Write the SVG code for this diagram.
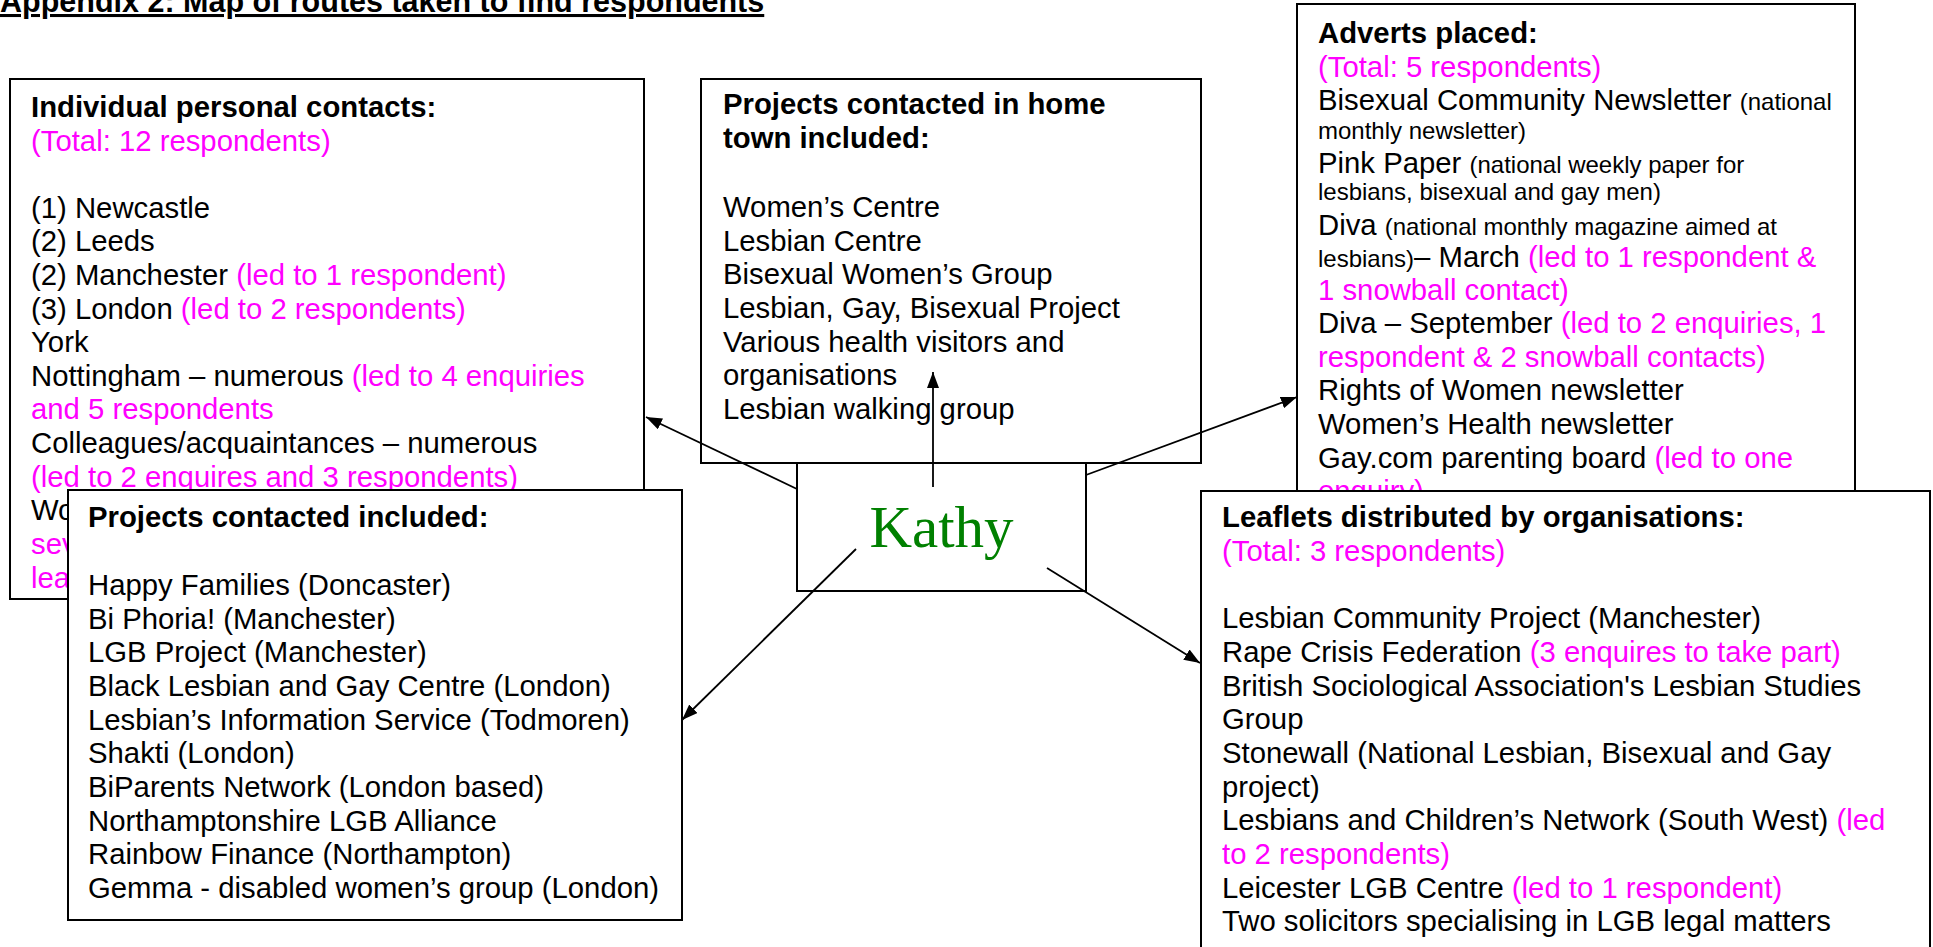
<svg xmlns="http://www.w3.org/2000/svg" width="1933" height="947" viewBox="0 0 1933 947">
<style>
.box{fill:#fff;stroke:#000;stroke-width:2}
.t{font-family:"Liberation Sans",Arial,sans-serif;font-size:29.3px;fill:#000}
.b{font-weight:bold}
.m{fill:#ff00ff}
.s{font-size:24px}
.k{font-family:"Liberation Serif","Times New Roman",serif;font-size:59px;fill:#008000}
.c{stroke:#000;stroke-width:1.8;fill:none;marker-end:url(#ah)}
</style>
<defs>
<marker id="ah" markerWidth="16" markerHeight="12" refX="16" refY="6" orient="auto" markerUnits="userSpaceOnUse">
<path d="M0,0 L16,6 L0,12 Z" fill="#000"/>
</marker>
</defs>
<rect width="1933" height="947" fill="#fff"/>
<text class="t b" x="0" y="12" style="font-size:30.5px" text-decoration="underline">Appendix 2: Map of routes taken to find respondents</text>

<g id="individual">
<rect class="box" x="10" y="79" width="634" height="520"/>
<text class="t b" x="31" y="117">Individual personal contacts:</text>
<text class="t m" x="31" y="150.5">(Total: 12 respondents)</text>
<text class="t" x="31" y="217.5">(1) Newcastle</text>
<text class="t" x="31" y="251">(2) Leeds</text>
<text class="t" x="31" y="285">(2) Manchester <tspan class="m">(led to 1 respondent)</tspan></text>
<text class="t" x="31" y="318.5">(3) London <tspan class="m">(led to 2 respondents)</tspan></text>
<text class="t" x="31" y="352">York</text>
<text class="t" x="31" y="385.5">Nottingham – numerous <tspan class="m">(led to 4 enquiries</tspan></text>
<text class="t m" x="31" y="419">and 5 respondents</text>
<text class="t" x="31" y="453">Colleagues/acquaintances – numerous</text>
<text class="t m" x="31" y="486.5">(led to 2 enquires and 3 respondents)</text>
<text class="t" x="31" y="520">Wo</text>
<text class="t m" x="31" y="554">sev</text>
<text class="t m" x="31" y="587.5">lea</text>
</g>

<g id="hometown">
<rect class="box" x="701" y="79" width="500" height="384"/>
<text class="t b" x="723" y="114">Projects contacted in home</text>
<text class="t b" x="723" y="148">town included:</text>
<text class="t" x="723" y="217">Women’s Centre</text>
<text class="t" x="723" y="251">Lesbian Centre</text>
<text class="t" x="723" y="284">Bisexual Women’s Group</text>
<text class="t" x="723" y="318">Lesbian, Gay, Bisexual Project</text>
<text class="t" x="723" y="352">Various health visitors and</text>
<text class="t" x="723" y="385">organisations</text>
<text class="t" x="723" y="419">Lesbian walking group</text>
</g>

<g id="adverts">
<rect class="box" x="1297" y="4" width="558" height="496"/>
<text class="t b" x="1318" y="43">Adverts placed:</text>
<text class="t m" x="1318" y="77">(Total: 5 respondents)</text>
<text class="t" x="1318" y="110">Bisexual Community Newsletter <tspan class="s">(national</tspan></text>
<text class="t s" x="1318" y="139">monthly newsletter)</text>
<text class="t" x="1318" y="173">Pink Paper <tspan class="s">(national weekly paper for</tspan></text>
<text class="t s" x="1318" y="200">lesbians, bisexual and gay men)</text>
<text class="t" x="1318" y="235">Diva <tspan class="s">(national monthly magazine aimed at</tspan></text>
<text class="t" x="1318" y="267"><tspan class="s">lesbians)</tspan>– March <tspan class="m">(led to 1 respondent &amp;</tspan></text>
<text class="t m" x="1318" y="300">1 snowball contact)</text>
<text class="t" x="1318" y="333">Diva – September <tspan class="m">(led to 2 enquiries, 1</tspan></text>
<text class="t m" x="1318" y="367">respondent &amp; 2 snowball contacts)</text>
<text class="t" x="1318" y="400">Rights of Women newsletter</text>
<text class="t" x="1318" y="434">Women’s Health newsletter</text>
<text class="t" x="1318" y="468">Gay.com parenting board <tspan class="m">(led to one</tspan></text>
<text class="t m" x="1318" y="501">enquiry)</text>
</g>

<g id="projects">
<rect class="box" x="68" y="490" width="614" height="430"/>
<text class="t b" x="88" y="527">Projects contacted included:</text>
<text class="t" x="88" y="595">Happy Families (Doncaster)</text>
<text class="t" x="88" y="628.5">Bi Phoria! (Manchester)</text>
<text class="t" x="88" y="662">LGB Project (Manchester)</text>
<text class="t" x="88" y="696">Black Lesbian and Gay Centre (London)</text>
<text class="t" x="88" y="729.5">Lesbian’s Information Service (Todmoren)</text>
<text class="t" x="88" y="763">Shakti (London)</text>
<text class="t" x="88" y="797">BiParents Network (London based)</text>
<text class="t" x="88" y="830.5">Northamptonshire LGB Alliance</text>
<text class="t" x="88" y="864">Rainbow Finance (Northampton)</text>
<text class="t" x="88" y="898">Gemma - disabled women’s group (London)</text>
</g>

<g id="leaflets">
<rect class="box" x="1201" y="491" width="729" height="470"/>
<text class="t b" x="1222" y="527">Leaflets distributed by organisations:</text>
<text class="t m" x="1222" y="561">(Total: 3 respondents)</text>
<text class="t" x="1222" y="628">Lesbian Community Project (Manchester)</text>
<text class="t" x="1222" y="662">Rape Crisis Federation <tspan class="m">(3 enquires to take part)</tspan></text>
<text class="t" x="1222" y="695.5">British Sociological Association's Lesbian Studies</text>
<text class="t" x="1222" y="729">Group</text>
<text class="t" x="1222" y="763">Stonewall (National Lesbian, Bisexual and Gay</text>
<text class="t" x="1222" y="796.5">project)</text>
<text class="t" x="1222" y="830">Lesbians and Children’s Network (South West) <tspan class="m">(led</tspan></text>
<text class="t m" x="1222" y="864">to 2 respondents)</text>
<text class="t" x="1222" y="897.5">Leicester LGB Centre <tspan class="m">(led to 1 respondent)</tspan></text>
<text class="t" x="1222" y="931">Two solicitors specialising in LGB legal matters</text>
</g>

<g id="kathy">
<rect class="box" x="797" y="463" width="289" height="128"/>
<text class="k" x="941.5" y="547" text-anchor="middle">Kathy</text>
</g>

<g id="connectors">
<line class="c" x1="797" y1="489" x2="646" y2="417"/>
<line class="c" x1="933" y1="487" x2="933" y2="372"/>
<line class="c" x1="1086" y1="475" x2="1297" y2="397"/>
<line class="c" x1="856" y1="549" x2="682" y2="720"/>
<line class="c" x1="1047" y1="568" x2="1200" y2="663"/>
</g>
</svg>
